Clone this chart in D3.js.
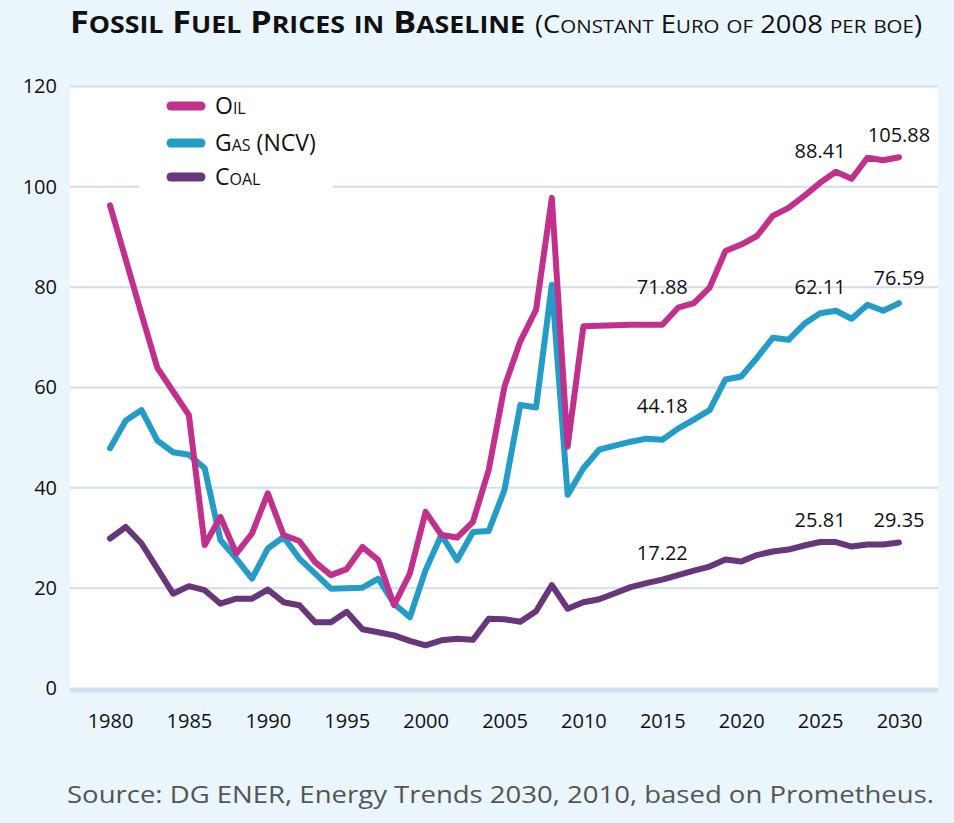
<!DOCTYPE html>
<html><head><meta charset="utf-8">
<script src="https://cdn.jsdelivr.net/npm/d3@7"></script>
<style>
html,body{margin:0;padding:0;background:#EAF5FC;}
svg{display:block;font-family:"Open Sans","DejaVu Sans",sans-serif;}
</style></head>
<body><svg id="chart" width="954" height="823"></svg>
<script>
const years = [1980,1981,1982,1983,1984,1985,1986,1987,1988,1989,1990,1991,1992,1993,1994,1995,1996,1997,1998,1999,2000,2001,2002,2003,2004,2005,2006,2007,2008,2009,2010,2011,2012,2013,2014,2015,2016,2017,2018,2019,2020,2021,2022,2023,2024,2025,2026,2027,2028,2029,2030];
const oil = [96.3,85.5,74.6,63.9,59.2,54.5,28.6,34.2,26.9,30.9,38.9,30.6,29.4,25.2,22.6,23.8,28.2,25.6,16.6,22.9,35.2,30.6,30.1,33.2,43.6,60.2,69.2,75.5,97.8,48.2,72.2,72.3,72.4,72.5,72.5,72.5,75.9,76.8,79.9,87.2,88.5,90.2,94.2,95.8,98.2,100.8,103.0,101.6,105.8,105.3,105.9];
const gas = [47.9,53.4,55.5,49.4,47.1,46.6,43.9,29.6,25.9,21.9,27.9,30.2,25.9,22.9,19.9,20.0,20.1,21.9,16.9,14.2,23.6,30.6,25.6,31.2,31.4,39.6,56.5,56.0,80.5,38.6,43.9,47.6,48.4,49.2,49.8,49.6,51.8,53.6,55.5,61.6,62.2,65.9,69.9,69.5,72.7,74.8,75.3,73.7,76.5,75.3,76.8];
const coal = [29.9,32.2,28.9,23.9,18.9,20.4,19.6,16.9,17.9,17.9,19.7,17.2,16.6,13.2,13.2,15.3,11.8,11.2,10.6,9.5,8.6,9.6,9.9,9.7,13.9,13.8,13.3,15.4,20.6,15.9,17.2,17.8,19.0,20.2,21.0,21.7,22.6,23.5,24.3,25.7,25.3,26.6,27.3,27.7,28.5,29.2,29.2,28.3,28.7,28.7,29.1];
const seriesNames = ["Oil","Gas (NCV)","Coal"];
const seriesColors = ["#C1308C","#239CC7","#67367B"];
const xTicks = [1980,1985,1990,1995,2000,2005,2010,2015,2020,2025,2030];
const yTicks = [0,20,40,60,80,100,120];
const annLabels = ["71.88","44.18","17.22","88.41","62.11","25.81","105.88","76.59","29.35"];
const annYears  = [2015,2015,2015,2025,2025,2025,2030,2030,2030];
const annValues = [78.7,55.0,25.6,105.8,78.7,32.2,109.0,80.5,32.2];
const titleMain = "Fossil Fuel Prices in Baseline";
const titleSub = "(Constant Euro of 2008 per boe)";
const source = "Source: DG ENER, Energy Trends 2030, 2010, based on Prometheus.";

const svg = d3.select("#chart");
const L = 70, R = 938, T = 86.5, B = 688.5;
const x = d3.scaleLinear().domain([1980,2030]).range([110,899]);
const y = d3.scaleLinear().domain([0,120]).range([B,T]);

// manual small caps: split into runs of upper/non-upper
function smallCaps(textSel, str, big, small){
  const runs = [];
  for (const ch of str){
    const isLow = ch !== ch.toUpperCase();
    const sz = isLow ? small : big;
    if (runs.length && runs[runs.length-1].sz === sz) runs[runs.length-1].t += ch.toUpperCase();
    else runs.push({sz, t: ch.toUpperCase()});
  }
  runs.forEach(r=>textSel.append("tspan").attr("font-size",r.sz).text(r.t));
}

// title
const t1 = svg.append("text").attr("x",70).attr("y",33).attr("font-weight","bold")
  .attr("fill","#111").attr("textLength",455).attr("lengthAdjust","spacingAndGlyphs");
smallCaps(t1, titleMain, 30, 23.5);
const t2 = svg.append("text").attr("x",535).attr("y",33)
  .attr("fill","#111").attr("textLength",387).attr("lengthAdjust","spacingAndGlyphs");
smallCaps(t2, titleSub, 25.5, 19);

// plot bg
svg.append("rect").attr("x",L).attr("y",T).attr("width",R-L).attr("height",B-T).attr("fill","#fff");

// grid
svg.append("g").selectAll("line").data(yTicks.filter(d=>d>0)).join("line")
  .attr("x1",L).attr("x2",R).attr("y1",d=>y(d)).attr("y2",d=>y(d))
  .attr("stroke","#D2DDEE").attr("stroke-width",2);
svg.append("line").attr("x1",L).attr("x2",R).attr("y1",y(0)+1.5).attr("y2",y(0)+1.5)
  .attr("stroke","#D2DDEE").attr("stroke-width",5);

// legend box
svg.append("rect").attr("x",139).attr("y",88).attr("width",194).attr("height",106).attr("fill","#fff");

// axes
const xa = svg.append("g").attr("transform",`translate(0,${B})`)
  .call(d3.axisBottom(x).tickValues(xTicks).tickFormat(d3.format("d")).tickSize(0).tickPadding(25.5));
xa.select(".domain").remove();
xa.selectAll("text").attr("font-size",20).attr("font-family","Open Sans").attr("fill","#111");
const ya = svg.append("g").attr("transform",`translate(${L},0)`)
  .call(d3.axisLeft(y).tickValues(yTicks).tickSize(0).tickPadding(13));
ya.select(".domain").remove();
ya.selectAll("text").attr("font-size",20).attr("font-family","Open Sans").attr("fill","#111");

// lines
const line = d3.line().x((d,i)=>x(years[i])).y(d=>y(d));
const allSeries = [oil,gas,coal];
[2,1,0].forEach(k=>{
  svg.append("path").datum(allSeries[k]).attr("d",line).attr("fill","none")
    .attr("stroke",seriesColors[k]).attr("stroke-width",6)
    .attr("stroke-linejoin","round").attr("stroke-linecap","round");
});

// annotations
svg.append("g").selectAll("text").data(annLabels).join("text")
  .attr("x",(d,i)=>x(annYears[i])).attr("y",(d,i)=>y(annValues[i]))
  .attr("text-anchor","middle").attr("font-size",20).attr("fill","#111").text(d=>d);

// legend
const legY = [106,143,177];
const lg = svg.append("g");
seriesNames.forEach((n,i)=>{
  lg.append("line").attr("x1",171).attr("x2",201).attr("y1",legY[i]).attr("y2",legY[i])
    .attr("stroke",seriesColors[i]).attr("stroke-width",9).attr("stroke-linecap","round");
  const tx = lg.append("text").attr("x",215).attr("y",legY[i]+8).attr("fill","#111");
  smallCaps(tx, n, 23, 16);
});

// source
svg.append("text").attr("x",67).attr("y",803).attr("font-size",24).attr("fill","#555")
  .attr("textLength",867).attr("lengthAdjust","spacingAndGlyphs").text(source);
</script></body></html>
